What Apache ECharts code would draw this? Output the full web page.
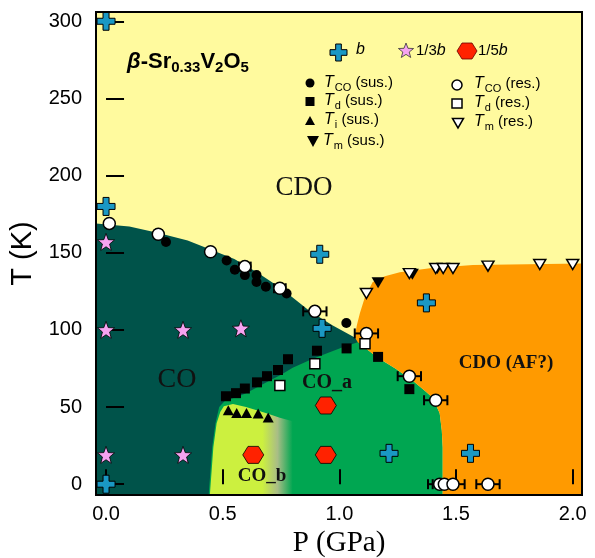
<!DOCTYPE html>
<html>
<head>
<meta charset="utf-8">
<script src="https://cdn.jsdelivr.net/npm/echarts@6/dist/echarts.min.js"></script>
<style>
  html, body { margin: 0; padding: 0; background: #fff; }
  #chart { width: 595px; height: 558px; }
</style>
</head>
<body>
<div id="chart"></div>
<script>
// axis ticks
const pTicks = [0, 0.5, 1.0, 1.5, 2.0];
const tTicks = [0, 50, 100, 150, 200, 250, 300];

// phase region outlines [P (GPa), T (K)]
const regionCO = [[-0.043, 169], [0.1, 167], [0.22, 163], [0.35, 158], [0.45, 152], [0.55, 146], [0.65, 137],
  [0.75, 127], [0.874, 112], [0.97, 103], [1.066, 95], [1.12, 91], [1.12, -7], [-0.043, -7]];
const regionCOa = [[0.44, -7], [0.455, 24], [0.469, 39.5], [0.485, 50], [0.51, 54], [0.56, 56.5], [0.6, 59],
  [0.65, 63], [0.7, 67], [0.75, 71], [0.8, 75.5], [0.874, 80.5], [0.95, 85], [1.02, 89], [1.079, 92],
  [1.165, 82], [1.24, 75], [1.315, 67], [1.37, 60], [1.40, 56], [1.43, 46], [1.439, 35], [1.443, 24], [1.443, -7]];
const regionCOb = [[0.445, -7], [0.46, 24], [0.474, 39.5], [0.49, 47], [0.505, 50.5], [0.544, 52], [0.6, 50],
  [0.688, 46], [0.745, 43], [0.82, 40], [0.82, -7]];
const regionAF = [[1.443, -7], [1.443, 24], [1.439, 35], [1.43, 46], [1.40, 56], [1.37, 60], [1.315, 67],
  [1.24, 75], [1.165, 82], [1.079, 92], [1.066, 95.3], [1.075, 103], [1.088, 110.8], [1.109, 121], [1.143, 131],
  [1.195, 134.8], [1.259, 137.4], [1.388, 140], [1.572, 142], [2.04, 143], [2.04, -7]];

// measured points [P, T]
const tcoSus = [[0.257, 157], [0.517, 145], [0.552, 139], [0.595, 135.5], [0.645, 135.5], [0.645, 131],
  [0.685, 128], [0.774, 123.6], [1.03, 104.5]];
const tcoRes = [[0.014, 169], [0.224, 162], [0.448, 150.6], [0.595, 141], [0.745, 127], [0.895, 112],
  [1.116, 97.7], [1.30, 70], [1.413, 54.4], [1.43, 0], [1.45, 0], [1.487, 0], [1.637, 0]];
const tcoResErr = [0, 0.015, 0, 0.025, 0.025, 0.05, 0.05, 0.05, 0.05, 0.05, 0.05, 0.05, 0.05];
const tdSus = [[0.514, 57], [0.557, 59], [0.595, 62], [0.647, 66], [0.69, 70], [0.737, 74], [0.78, 81],
  [0.904, 86.5], [1.031, 88], [1.166, 82.5], [1.30, 61.6]];
const tdRes = [[0.745, 64], [0.895, 78], [1.11, 91]];
const tiSus = [[0.524, 48], [0.56, 46.2], [0.602, 46.2], [0.652, 45.8], [0.695, 43.2]];
const tmSus = [[1.166, 130.5], [1.313, 136], [1.42, 139.8]];
const tmRes = [[1.116, 123.6], [1.30, 136.5], [1.413, 139.8], [1.445, 139.8], [1.487, 139.8], [1.637, 141.3],
  [1.859, 142.4], [2.0, 142.4]];
const satB = [[0, 300], [0, 180], [0.916, 149], [0.926, 101], [1.373, 117.5], [1.213, 20], [1.562, 20], [0, 0]];
const sat13 = [[0, 157], [0, 100], [0.33, 100], [0.578, 101], [0, 19], [0.33, 19]];
const sat15 = [[0.631, 19], [0.942, 51], [0.942, 19]];

// marker outlines
const PLUS_PTS = [[4, 0], [8, 0], [8, 4], [12, 4], [12, 8], [8, 8], [8, 12], [4, 12], [4, 8], [0, 8], [0, 4], [4, 4]];
const STAR_PTS = [[10, 0], [12.47, 6.6], [19.51, 6.91], [13.99, 11.3], [15.88, 18.09], [10, 14.2], [4.12, 18.09],
  [6.01, 11.3], [0.49, 6.91], [7.53, 6.6]];
const HEX_PTS = [[0, 5], [3, 0], [9, 0], [12, 5], [9, 10], [3, 10]];
const toPath = a => 'path://M' + a.map(p => p.join(',')).join('L') + 'Z';

const C_YEL = '#FFFA9E', C_TEAL = '#00534A', C_GREEN = '#00A651', C_LIME = '#CCF03F', C_ORG = '#FF9A00';
const C_BLUE = '#1A98C4', C_PINK = '#F5A3F0', C_RED = '#FF2200';

const chart = echarts.init(document.getElementById('chart'));

const region = (pts, fill) => ({
	type: 'custom',
	silent: true,
	z: 1,
	data: [[0, 0]],
	renderItem: (params, api) => {
		let f = fill;
		if (fill === 'gradient') {
			const x0 = api.coord([0.67, 0])[0];
			const x1 = api.coord([0.8, 0])[0];
			f = new echarts.graphic.LinearGradient(x0, 0, x1, 0, [
				{ offset: 0, color: C_LIME },
				{ offset: 0.5, color: '#A9BD86' },
				{ offset: 1, color: C_GREEN },
			], true);
		}
		return {
			type: 'polygon',
			shape: { points: pts.map(p => api.coord(p)) },
			style: { fill: f },
		};
	},
});

const pts = (data, symbol, size, color, border, extra) => Object.assign({
	type: 'scatter',
	data,
	symbol,
	symbolSize: size,
	z: 5,
	itemStyle: { color, borderColor: '#000', borderWidth: border || 0, opacity: 1 },
}, extra || {});

// legend glyph placed at (x, y), scaled
const glyph = (a, x, y, sx, sy, style) => ({
	type: 'polygon', z: 20,
	shape: { points: a.map(p => [x + p[0] * sx, y + p[1] * sy]) },
	style,
});

const sans = 'Liberation Sans';
const T = (s) => '{it|T}' + s;

const legendText = (x, y, text) => ({
	type: 'text', x, y, z: 20,
	style: {
		text, fill: '#000', font: '15px "Liberation Sans"',
		align: 'left', verticalAlign: 'middle', textAlign: 'left', textVerticalAlign: 'middle',
		rich: {
			it: { fontStyle: 'italic', fontSize: 16, fontFamily: sans },
			s: { fontSize: 11, fontFamily: sans, padding: [9, 0, 0, 1] },
		},
	},
});

const label = (x, y, text, size, bold) => ({
	type: 'text', x, y, z: 20,
	style: {
		text, fill: '#111', font: (bold ? 'bold ' : '') + size + 'px "Liberation Serif"',
		align: 'center', verticalAlign: 'middle', textAlign: 'center', textVerticalAlign: 'middle',
	},
});

const option = {
	animation: false,
	backgroundColor: '#fff',
	grid: {
		left: 96, top: 12, right: 13, bottom: 63, outerBoundsMode: 'none', containLabel: false,
		show: true, backgroundColor: C_YEL, borderWidth: 0,
	},
	xAxis: {
		type: 'value', min: -0.043, max: 2.04, z: 3,
		name: 'P (GPa)', nameLocation: 'middle', nameGap: 34,
		nameTextStyle: { fontFamily: 'Liberation Serif', fontSize: 29, color: '#000' },
		axisLine: { show: false },
		axisTick: { inside: true, length: 15, customValues: pTicks, lineStyle: { color: '#000', width: 2 } },
		axisLabel: { customValues: pTicks, formatter: v => v.toFixed(1), fontFamily: sans, fontSize: 20, color: '#000', margin: 9 },
		splitLine: { show: false },
	},
	yAxis: {
		type: 'value', min: -7, max: 306, z: 3,
		name: 'T (K)', nameLocation: 'middle', nameGap: 56, nameRotate: 90,
		nameTextStyle: { fontFamily: sans, fontSize: 29, color: '#000' },
		axisLine: { show: false },
		axisTick: { inside: true, length: 18, customValues: tTicks, lineStyle: { color: '#000', width: 2 } },
		axisLabel: { customValues: tTicks, fontFamily: sans, fontSize: 20, color: '#000', margin: 14 },
		splitLine: { show: false },
	},
	series: [
		region(regionCO, C_TEAL),
		region(regionCOa, C_GREEN),
		region(regionCOb, 'gradient'),
		region(regionAF, C_ORG),
		{
			type: 'custom', z: 4, silent: true,
			data: tcoRes.map((p, i) => [p[0], p[1], tcoResErr[i]]),
			renderItem: (params, api) => {
				const e = api.value(2);
				if (!e) return;
				const a = api.coord([api.value(0) - e, api.value(1)]);
				const b = api.coord([api.value(0) + e, api.value(1)]);
				const st = { stroke: '#000', lineWidth: 2 };
				return {
					type: 'group', children: [
						{ type: 'line', shape: { x1: a[0], y1: a[1], x2: b[0], y2: b[1] }, style: st },
						{ type: 'line', shape: { x1: a[0], y1: a[1] - 5, x2: a[0], y2: a[1] + 5 }, style: st },
						{ type: 'line', shape: { x1: b[0], y1: b[1] - 5, x2: b[0], y2: b[1] + 5 }, style: st },
					],
				};
			},
		},
		pts(tcoSus, 'circle', 10, '#000', 0),
		pts(tcoRes, 'circle', 12, '#fff', 1.5),
		pts(tdSus, 'rect', 10, '#000', 0),
		pts(tdRes, 'rect', 10, '#fff', 1.5),
		pts(tiSus, 'triangle', [11, 10], '#000', 0),
		pts(tmSus, 'triangle', [13, 11], '#000', 0, { symbolRotate: 180 }),
		pts(tmRes, 'triangle', [12, 10], '#fff', 1.5, { symbolRotate: 180 }),
		pts(sat13, toPath(STAR_PTS), 17, C_PINK, 0.8),
		pts(sat15, toPath(HEX_PTS), [21, 17], C_RED, 0.8),
		pts(satB, toPath(PLUS_PTS), 18, C_BLUE, 1),
	],
	graphic: [
		{ type: 'rect', z: 30, silent: true, shape: { x: 96, y: 12, width: 486, height: 483 },
			style: { fill: 'none', stroke: '#000', lineWidth: 2 } },
		// title
		{ type: 'text', x: 127, y: 62, z: 20, style: {
			text: '{i|β}{m|-Sr}{s|0.33}{m|V}{s|2}{m|O}{s|5}',
			align: 'left', verticalAlign: 'middle', textAlign: 'left', textVerticalAlign: 'middle',
			fill: '#000',
			rich: {
				i: { fontFamily: sans, fontSize: 22, fontWeight: 'bold', fontStyle: 'italic' },
				m: { fontFamily: sans, fontSize: 22, fontWeight: 'bold' },
				s: { fontFamily: sans, fontSize: 15, fontWeight: 'bold', padding: [12, 0, 0, 0] },
			},
		} },
		// legend: satellites
		glyph(PLUS_PTS, 330, 44, 17 / 12, 17 / 12, { fill: C_BLUE, stroke: '#000', lineWidth: 1 }),
		legendText(356, 50, '{it|b}'),
		glyph(STAR_PTS, 398, 43, 0.8, 0.8, { fill: C_PINK, stroke: '#333', lineWidth: 0.8 }),
		legendText(416, 51, '1/3{it|b}'),
		glyph(HEX_PTS, 457, 43, 20 / 12, 1.6, { fill: C_RED, stroke: '#600', lineWidth: 0.8 }),
		legendText(478, 51, '1/5{it|b}'),
		// legend: markers
		{ type: 'circle', z: 20, shape: { cx: 310, cy: 83, r: 4.5 }, style: { fill: '#000' } },
		legendText(324, 83, T('{s|CO} (sus.)')),
		{ type: 'rect', z: 20, shape: { x: 305.5, y: 97, width: 9, height: 9 }, style: { fill: '#000' } },
		legendText(324, 101, T('{s|d} (sus.)')),
		{ type: 'polygon', z: 20, shape: { points: [[310, 116], [315, 125], [305, 125]] }, style: { fill: '#000' } },
		legendText(324, 120, T('{s|i} (sus.)')),
		{ type: 'polygon', z: 20, shape: { points: [[307, 136], [319, 136], [313, 147]] }, style: { fill: '#000' } },
		legendText(323, 141, T('{s|m} (sus.)')),
		{ type: 'circle', z: 20, shape: { cx: 457, cy: 85, r: 5 }, style: { fill: '#fff', stroke: '#000', lineWidth: 1.5 } },
		legendText(474, 84, T('{s|CO} (res.)')),
		{ type: 'rect', z: 20, shape: { x: 452, y: 99, width: 10, height: 9 }, style: { fill: '#fff', stroke: '#000', lineWidth: 1.5 } },
		legendText(474, 103, T('{s|d} (res.)')),
		{ type: 'polygon', z: 20, shape: { points: [[452.5, 118.5], [463.5, 118.5], [458, 128]] }, style: { fill: '#fff', stroke: '#000', lineWidth: 1.5 } },
		legendText(474, 122, T('{s|m} (res.)')),
		// phase labels
		label(304, 188, 'CDO', 27, false),
		label(177, 380, 'CO', 28, false),
		label(327, 383, 'CO_a', 20, true),
		label(262, 476, 'CO_b', 19, true),
		label(506, 363, 'CDO (AF?)', 19, true),
	],
};

option && chart.setOption(option);
</script>
</body>
</html>
